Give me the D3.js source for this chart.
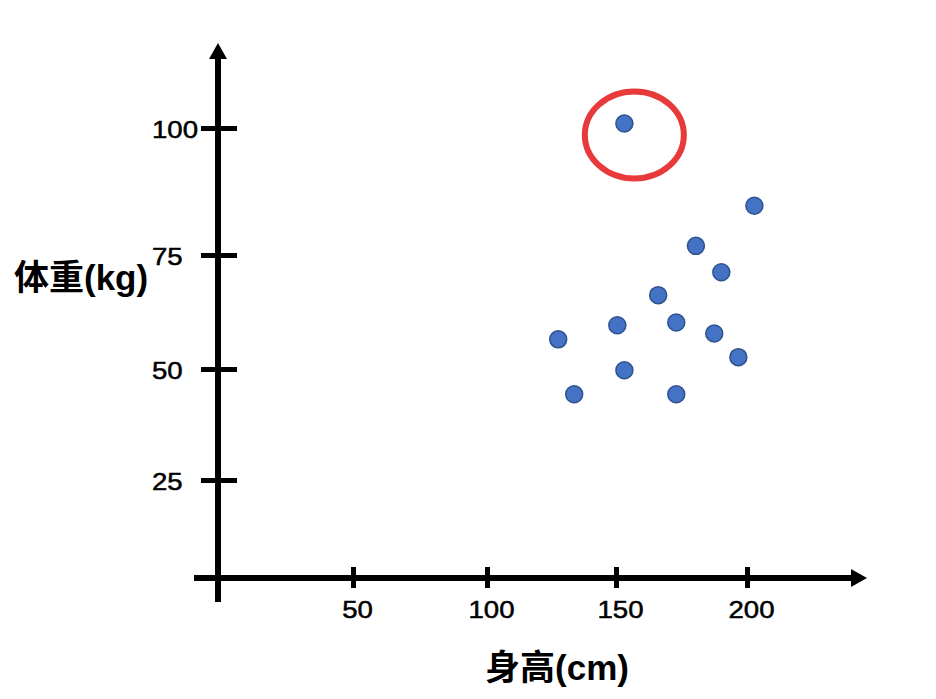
<!DOCTYPE html>
<html>
<head>
<meta charset="utf-8">
<script src="https://cdn.jsdelivr.net/npm/d3@7"></script>
<style>
  html, body { margin: 0; padding: 0; background: #fff; }
  svg { display: block; }
</style>
</head>
<body>
<svg id="chart" width="936" height="699"></svg>
<script>
// ---- data ----
const heights = [180.5, 190.2, 166.1, 150.5, 173.0, 127.6, 187.5, 196.7, 153.2, 133.8, 173.0, 153.2, 202.8];
const weights = [76.8, 71.2, 66.2, 59.6, 60.2, 56.5, 57.8, 52.6, 49.7, 44.3, 44.3, 100.9, 84.7];
const xTicks = [50, 100, 150, 200];
const yTicks = [25, 50, 75, 100];
const xTitle = "身高(cm)";
const yTitle = "体重(kg)";
const outlier = { height: 157, weight: 98.6 }; // centre of the red highlight

// ---- scales (hand-drawn axis, piecewise linear) ----
const x = d3.scaleLinear().domain([0, 50, 100, 150, 200]).range([218, 353, 487, 616, 747]);
const y = d3.scaleLinear().domain([0, 25, 50, 75, 100]).range([578, 480, 369, 255, 128]);

const svg = d3.select("#chart");
const numFont = "'Liberation Sans', Arial, sans-serif";
const titleFont = "'Liberation Sans', 'Noto Sans CJK SC', sans-serif";

// ---- axes lines ----
const x0 = x(0), y0 = y(0);
svg.append("line").attr("x1", x0).attr("x2", x0).attr("y1", 602).attr("y2", 58)
  .attr("stroke", "#000").attr("stroke-width", 6);
svg.append("path").attr("d", `M${x0},43 L${x0 - 9},59 L${x0 + 9},59 Z`).attr("fill", "#000");

svg.append("line").attr("x1", 194).attr("x2", 851).attr("y1", y0).attr("y2", y0)
  .attr("stroke", "#000").attr("stroke-width", 6);
svg.append("path").attr("d", `M867,${y0} L851,${y0 - 9} L851,${y0 + 9} Z`).attr("fill", "#000");

// ---- y axis ticks ----
const yAxis = svg.append("g").attr("transform", `translate(${x0},0)`)
  .call(d3.axisLeft(y).tickValues(yTicks).tickSize(0).tickFormat(""));
yAxis.select(".domain").remove();
yAxis.selectAll(".tick").append("line")
  .attr("x1", -17).attr("x2", 19).attr("stroke", "#000").attr("stroke-width", 5);
yAxis.selectAll(".tick text").remove();
yAxis.selectAll(".tick").append("text")
  .attr("transform", `translate(${152 - x0},0) scale(1.15,1)`)
  .attr("dy", "0.38em")
  .attr("text-anchor", "start")
  .attr("font-family", numFont).attr("font-size", 24).attr("fill", "#000")
  .attr("stroke", "#000").attr("stroke-width", 0.5)
  .text(d => d);

// ---- x axis ticks ----
const xAxis = svg.append("g").attr("transform", `translate(0,${y0})`)
  .call(d3.axisBottom(x).tickValues(xTicks).tickSize(0).tickFormat(""));
xAxis.select(".domain").remove();
xAxis.selectAll(".tick").append("line")
  .attr("y1", -11).attr("y2", 10).attr("stroke", "#000").attr("stroke-width", 5);
xAxis.selectAll(".tick text").remove();
xAxis.selectAll(".tick").append("text")
  .attr("transform", "translate(4,40) scale(1.15,1)")
  .attr("text-anchor", "middle")
  .attr("font-family", numFont).attr("font-size", 24).attr("fill", "#000")
  .attr("stroke", "#000").attr("stroke-width", 0.5)
  .text(d => d);

// ---- axis titles ----
svg.append("text").attr("x", 14).attr("y", 290)
  .attr("font-family", titleFont).attr("font-weight", "bold").attr("font-size", 35)
  .attr("fill", "#000").text(yTitle);
svg.append("text").attr("x", 557).attr("y", 680).attr("text-anchor", "middle")
  .attr("font-family", titleFont).attr("font-weight", "bold").attr("font-size", 35)
  .attr("fill", "#000").text(xTitle);

// ---- points ----
const pts = heights.map((h, i) => ({ h, w: weights[i] }));
svg.append("g").selectAll("circle").data(pts).join("circle")
  .attr("cx", d => x(d.h)).attr("cy", d => y(d.w)).attr("r", 8.5)
  .attr("fill", "#4472c4").attr("stroke", "#2f528f").attr("stroke-width", 1.5);

// ---- outlier highlight ----
svg.append("ellipse")
  .attr("cx", x(outlier.height)).attr("cy", y(outlier.weight))
  .attr("rx", 49.5).attr("ry", 43.5)
  .attr("fill", "none").attr("stroke", "#e8393b").attr("stroke-width", 6);
</script>
</body>
</html>
